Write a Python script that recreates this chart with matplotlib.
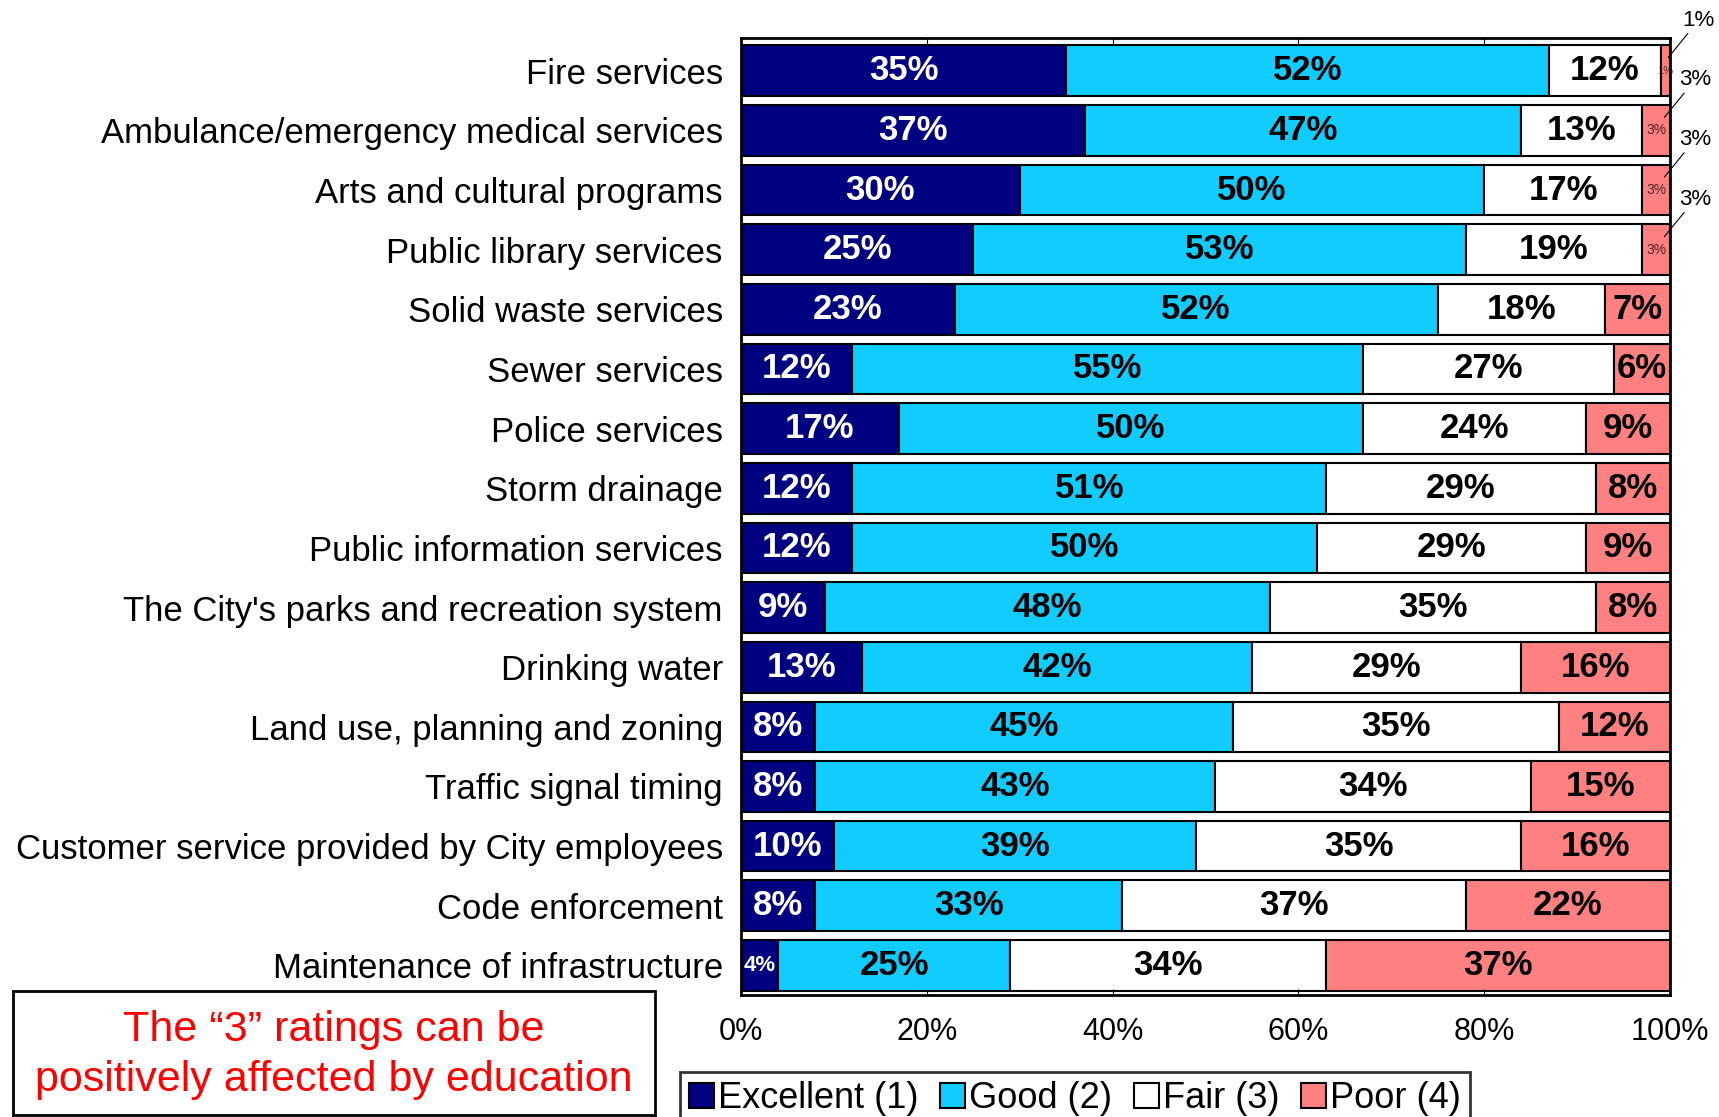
import matplotlib
matplotlib.use("Agg")
import matplotlib.pyplot as plt
from matplotlib.patches import Rectangle
import numpy as np

plt.rcParams['font.family'] = ['Liberation Sans', 'DejaVu Sans']

services = ['Fire services',
            'Ambulance/emergency medical services',
            'Arts and cultural programs',
            'Public library services',
            'Solid waste services',
            'Sewer services',
            'Police services',
            'Storm drainage',
            'Public information services',
            "The City's parks and recreation system",
            'Drinking water',
            'Land use, planning and zoning',
            'Traffic signal timing',
            'Customer service provided by City employees',
            'Code enforcement',
            'Maintenance of infrastructure']

excellent = [35, 37, 30, 25, 23, 12, 17, 12, 12, 9, 13, 8, 8, 10, 8, 4]
good = [52, 47, 50, 53, 52, 55, 50, 51, 50, 48, 42, 45, 43, 39, 33, 25]
fair = [12, 13, 17, 19, 18, 27, 24, 29, 29, 35, 29, 35, 34, 35, 37, 34]
poor = [1, 3, 3, 3, 7, 6, 9, 8, 9, 8, 16, 12, 15, 16, 22, 37]

ratings = ['Excellent (1)', 'Good (2)', 'Fair (3)', 'Poor (4)']
colors = ['#000080', '#11CCFF', '#FFFFFF', '#FF8080']
text_colors = ['white', 'black', 'black', 'black']

fig = plt.figure(figsize=(17.19, 11.17), dpi=100)
ax = fig.add_axes([0.431, 0.109, 0.5405, 0.857])

y = np.arange(len(services))
left = np.zeros(len(services))
for vals, col, tcol, name in zip([excellent, good, fair, poor], colors, text_colors, ratings):
    vals = np.array(vals)
    ax.barh(y, vals, left=left, height=0.85, color=col, edgecolor='black',
            linewidth=1.5, label=name)
    for i, v in enumerate(vals):
        cx = left[i] + v / 2
        if v >= 4:
            ax.text(cx, y[i], f'{v}%', ha='center', va='center', color=tcol,
                    fontsize=25 if v >= 6 else 16, fontweight='bold')
        else:
            # tiny segments: small inner label plus a callout outside the frame
            ax.text(cx, y[i], f'{v}%', ha='center', va='center', color='black',
                    fontsize=10 if v > 1 else 8, alpha=0.7)
            ax.annotate(f'{v}%', xy=(left[i] + v * 0.8, y[i] - 0.22),
                        xytext=(22, 27), textcoords='offset points',
                        fontsize=16, ha='center', va='center',
                        arrowprops=dict(arrowstyle='-', color='black', lw=0.8,
                                        shrinkA=0, shrinkB=0),
                        annotation_clip=False)
    left += vals

ax.set_xlim(0, 100)
ax.set_ylim(len(services) - 0.5, -0.55)
ax.set_yticks(y)
ax.set_yticklabels(services, fontsize=25)
ax.tick_params(axis='y', length=0, pad=13)
ax.set_xticks(np.arange(0, 101, 20))
ax.set_xticklabels([f'{t}%' for t in range(0, 101, 20)], fontsize=22)
ax.tick_params(axis='x', direction='in', length=4, pad=16, top=True)
for s in ax.spines.values():
    s.set_linewidth(2)

fig.legend(loc='upper left', bbox_to_anchor=(0.3956, 0.0403), ncol=4,
           fontsize=26, frameon=True, fancybox=False, edgecolor='black',
           handlelength=0.7, handleheight=0.7, handletextpad=0.1,
           columnspacing=0.6, borderpad=0.25, borderaxespad=0)
fig.legends[0].get_frame().set_linewidth(2)

fig.patches.append(Rectangle((0.0076, 0.002), 0.3735, 0.111, transform=fig.transFigure,
                             facecolor='white', edgecolor='black', linewidth=2))
fig.text(0.194, 0.0555, 'The \u201c3\u201d ratings can be\npositively affected by education',
         ha='center', va='center', color='#FF0000', fontsize=31, linespacing=1.3)

fig.savefig('out.png', dpi=100)
